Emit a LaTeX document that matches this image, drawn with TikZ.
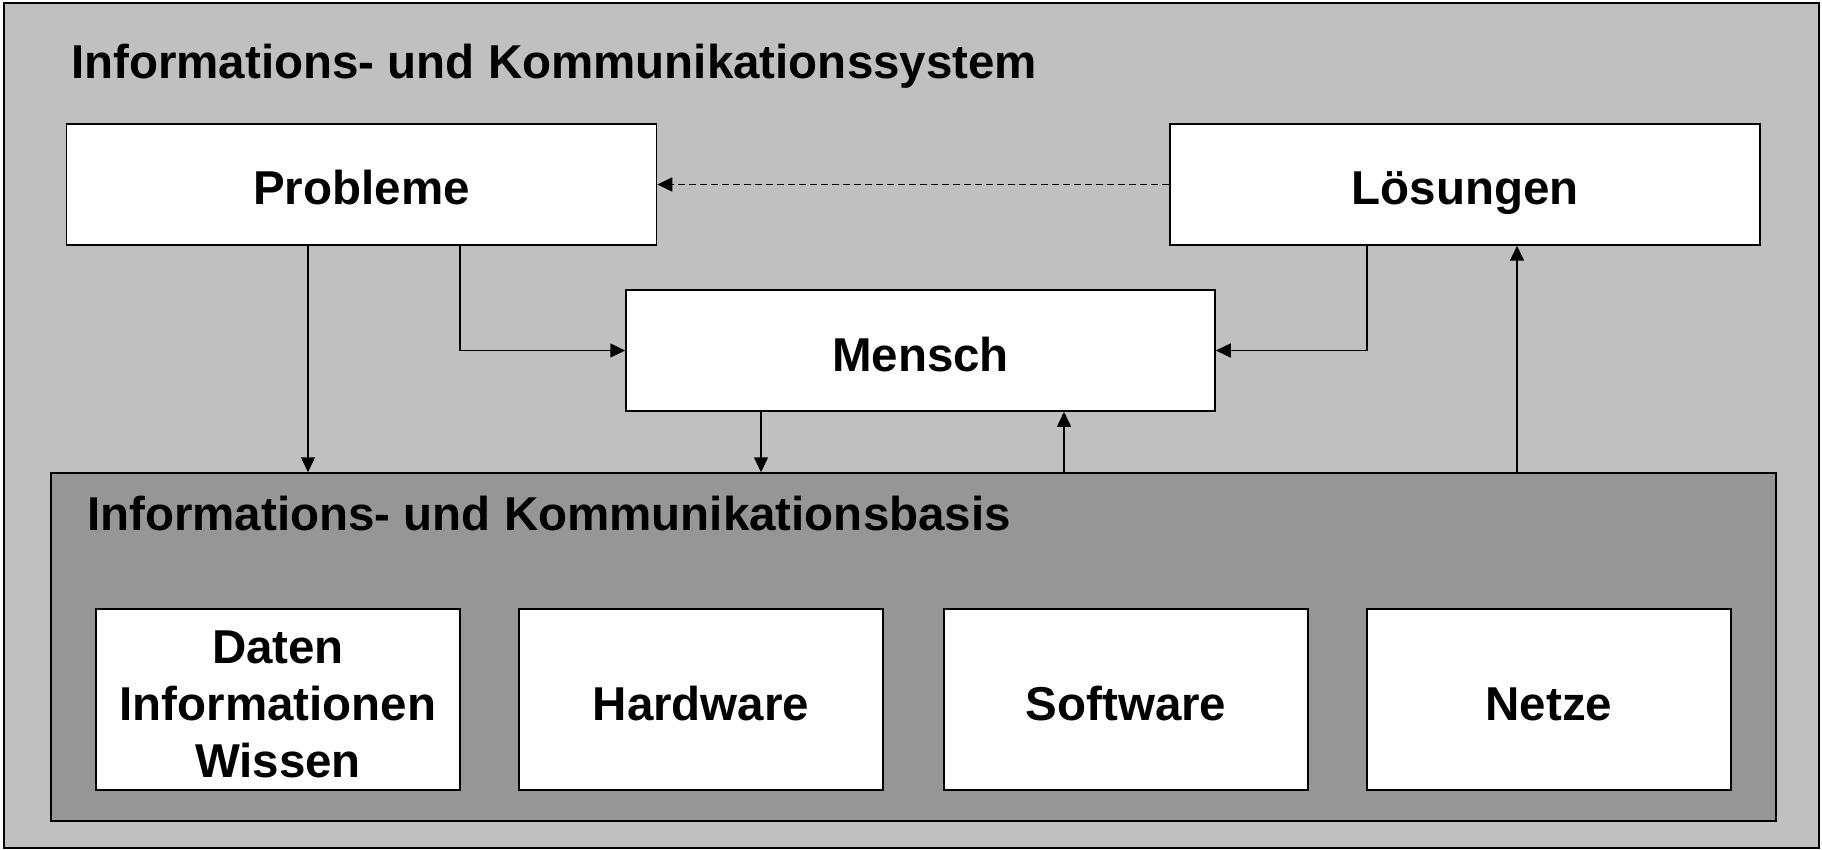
\documentclass[tikz,border=0pt]{standalone}
\usepackage{fontspec}
\setmainfont{Liberation Sans}
\usepackage{xcolor}
\usetikzlibrary{arrows.meta, positioning, calc}

\definecolor{sysgray}{HTML}{C0C0C0}
\definecolor{basisgray}{HTML}{969696}

\tikzset{
  box/.style={draw=black, line width=1.5pt, fill=white, inner sep=0pt,
    minimum width=590pt, minimum height=121pt, align=center,
    font=\fontsize{47.5}{57}\selectfont\bfseries},
  oneline/.style={text height=48pt, text depth=7pt},
  threeline/.style={text height=162pt, text depth=7pt},
  smallbox/.style={box, minimum width=364pt, minimum height=181pt},
  headline/.style={anchor=base west, inner sep=0pt,
    font=\fontsize{47.5}{57}\selectfont\bfseries},
  arr/.style={line width=1.5pt, -{Triangle[length=15pt, width=14pt]}}
}

\begin{document}
\begin{tikzpicture}[x=1pt, y=-1pt]
\useasboundingbox (0,0) rectangle (1822,850);

% Outer system frame
\fill[sysgray] (4,3) rectangle (1819,848);
\draw[line width=2pt] (4,3) rectangle (1819,848);
\node[headline] (systitle) at (71,79) {Informations- und Kommunikationssystem};

% Upper boxes
\node[box, oneline] (probleme) at (361.5,184.5) {Probleme};
\node[box, oneline] (loesungen) at (1465,184.5) {Lösungen};
\node[box, oneline, minimum width=589pt] (mensch) at (920.5,350.5) {Mensch};

% Basis block
\node[draw=black, line width=1.5pt, fill=basisgray, inner sep=0pt,
  minimum width=1725pt, minimum height=348pt] (basis) at (913.5,647) {};
\node[headline] (basistitle) at (87,530) {Informations- und Kommunikationsbasis};

\foreach \x/\name/\lines/\txt in {278/daten/threeline/{Daten\\Informationen\\Wissen},
    701/hardware/oneline/Hardware, 1126/software/oneline/Software,
    1549/netze/oneline/Netze} {
  \node[smallbox, \lines] (\name) at (\x,699.5) {\txt};
}

% Connector columns
\coordinate (xa) at (308,0);
\coordinate (xb) at (460,0);
\coordinate (xc) at (1367,0);
\coordinate (xd) at (761,0);
\coordinate (xe) at (1064,0);
\coordinate (xf) at (1517,0);

% Connectors
\draw[arr] (probleme.south -| xa) -- (basis.north -| xa);
\draw[arr] (probleme.south -| xb) |- (mensch.west);
\draw[arr] (loesungen.south -| xc) |- (mensch.east);
\draw[arr, dash pattern=on 7pt off 4pt] (loesungen.west) -- (probleme.east);
\draw[arr] (mensch.south -| xd) -- (basis.north -| xd);
\draw[arr] (basis.north -| xe) -- (mensch.south -| xe);
\draw[arr] (basis.north -| xf) -- (loesungen.south -| xf);

\end{tikzpicture}
\end{document}
